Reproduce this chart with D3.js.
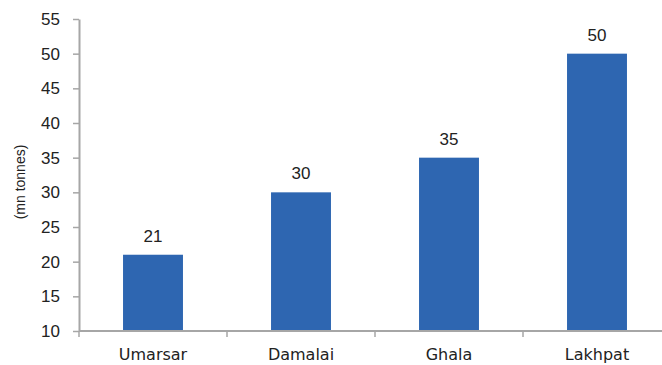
<!DOCTYPE html>
<html>
<head>
<meta charset="utf-8">
<script src="https://cdn.jsdelivr.net/npm/d3@7"></script>
<style>
  html, body { margin: 0; padding: 0; background: #fff; }
  svg { display: block; }
</style>
</head>
<body>
<svg id="chart" width="662" height="365"></svg>
<script>
// Mine capacities
const categories = ["Umarsar", "Damalai", "Ghala", "Lakhpat"];
const values = [21, 30, 35, 50];
const yTicks = [10, 15, 20, 25, 30, 35, 40, 45, 50, 55];
const yLabel = "(mn tonnes)";

const svg = d3.select("#chart");
const plotLeft = 79, plotTop = 19, plotBottom = 331, plotRight = 671;
const axisColor = "#a6a6a6";
const barColor = "#2e66b1";
const numFont = "'Liberation Sans', Arial, sans-serif";
const catFont = "'DejaVu Sans', sans-serif";

const x = d3.scaleBand().domain(categories).range([plotLeft, plotRight]).paddingInner(0.595).paddingOuter(0.2975);
const y = d3.scaleLinear().domain([10, 55]).range([plotBottom, plotTop]);

// Bars
svg.append("g").selectAll("rect")
  .data(values)
  .join("rect")
  .attr("x", (d, i) => x(categories[i]))
  .attr("y", d => y(d))
  .attr("width", x.bandwidth())
  .attr("height", d => y(10) - y(d))
  .attr("fill", barColor);

// Value labels
svg.append("g").selectAll("text")
  .data(values)
  .join("text")
  .attr("x", (d, i) => x(categories[i]) + x.bandwidth() / 2)
  .attr("y", d => y(d) - 13)
  .attr("text-anchor", "middle")
  .attr("font-family", numFont)
  .attr("font-size", 17)
  .attr("fill", "#222")
  .text(d => d);

// Y axis
const yAxis = svg.append("g")
  .attr("transform", `translate(${plotLeft},0)`)
  .call(d3.axisLeft(y).tickValues(yTicks).tickSize(6).tickPadding(13).tickSizeOuter(0));
yAxis.select(".domain").attr("stroke", axisColor).attr("stroke-width", 2);
yAxis.selectAll(".tick line").attr("stroke", axisColor).attr("stroke-width", 1.5);
yAxis.selectAll(".tick text")
  .attr("font-family", numFont).attr("font-size", 17).attr("fill", "#222");

// X axis with boundary ticks between categories
const xAxis = svg.append("g").attr("transform", `translate(0,${plotBottom})`);
xAxis.append("line")
  .attr("x1", plotLeft).attr("x2", plotRight)
  .attr("stroke", axisColor).attr("stroke-width", 2);
const step = x.step();
const bounds = d3.range(categories.length + 1).map(i => plotLeft + i * step);
xAxis.selectAll("line.tk")
  .data(bounds)
  .join("line")
  .attr("class", "tk")
  .attr("x1", d => d).attr("x2", d => d)
  .attr("y1", 0).attr("y2", 6)
  .attr("stroke", axisColor).attr("stroke-width", 1.5);
xAxis.selectAll("text")
  .data(categories)
  .join("text")
  .attr("x", d => x(d) + x.bandwidth() / 2)
  .attr("y", 29)
  .attr("text-anchor", "middle")
  .attr("font-family", catFont)
  .attr("font-size", 16)
  .attr("fill", "#222")
  .text(d => d);

// Y axis title
svg.append("text")
  .attr("transform", `translate(25,182) rotate(-90)`)
  .attr("text-anchor", "middle")
  .attr("font-family", numFont)
  .attr("font-size", 14)
  .attr("fill", "#222")
  .text(yLabel);
</script>
</body>
</html>
